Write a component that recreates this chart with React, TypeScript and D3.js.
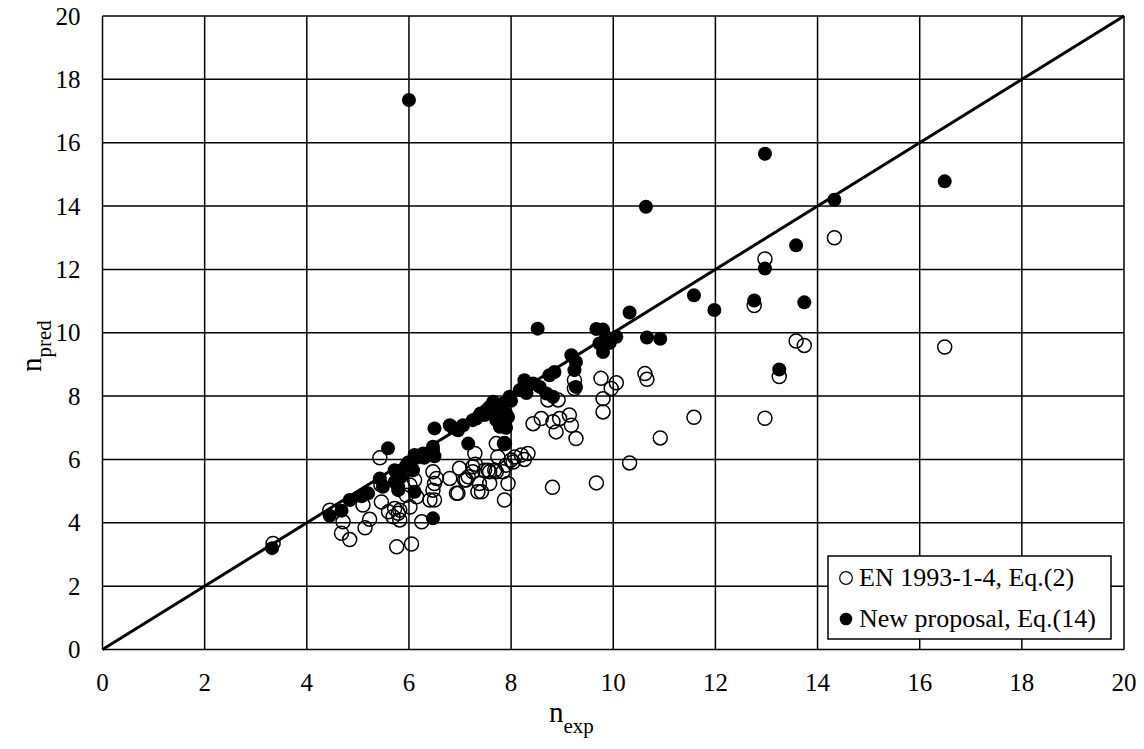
import React from "react";
import * as d3 from "d3";

const xTicks = [0, 2, 4, 6, 8, 10, 12, 14, 16, 18, 20];
const yTicks = [0, 2, 4, 6, 8, 10, 12, 14, 16, 18, 20];

const enX = [3.34, 4.45, 4.71, 4.68, 4.84, 5.1, 5.23, 5.14, 5.43, 5.46, 5.76, 5.72, 5.79, 5.82, 5.69, 5.82, 6.02, 6.25, 6.05, 6.15, 6.41, 6.47, 6.5, 6.54, 6.47, 6.02, 5.95, 6.11, 6.8, 6.93, 6.99, 7.12, 7.25, 7.29, 7.38, 7.42, 7.55, 7.58, 7.71, 7.84, 7.87, 7.94, 7.71, 7.74, 7.9, 8.04, 8.07, 8.2, 8.33, 7.68, 7.87, 8.43, 8.59, 8.82, 8.88, 8.95, 9.14, 9.18, 9.27, 8.72, 8.92, 9.24, 9.24, 9.76, 10.06, 9.96, 9.8, 9.8, 8.81, 9.67, 10.32, 10.62, 10.66, 10.92, 11.58, 12.76, 12.97, 12.97, 13.25, 13.58, 13.74, 14.33, 16.49, 7.16, 7.09, 6.96, 7.48, 7.25, 7.35, 7.58, 8.0, 6.5, 5.6, 5.45, 8.26, 7.3];
const enY = [3.35, 4.4, 4.03, 3.67, 3.47, 4.56, 4.11, 3.84, 6.05, 4.66, 3.24, 4.45, 4.3, 4.09, 4.19, 4.4, 4.5, 4.03, 3.33, 4.82, 4.72, 5.03, 5.24, 5.4, 5.61, 5.19, 4.87, 5.35, 5.4, 4.93, 5.72, 5.35, 5.61, 6.19, 5.24, 4.98, 5.66, 5.24, 5.61, 5.61, 4.72, 5.24, 6.5, 6.08, 5.82, 5.92, 6.08, 6.14, 6.19, 5.66, 6.5, 7.13, 7.29, 7.19, 6.87, 7.29, 7.4, 7.08, 6.66, 7.88, 7.88, 8.5, 8.24, 8.56, 8.42, 8.24, 7.92, 7.5, 5.12, 5.26, 5.89, 8.71, 8.53, 6.68, 7.33, 10.86, 12.33, 7.3, 8.62, 9.74, 9.6, 13.0, 9.55, 5.45, 5.35, 4.93, 5.66, 5.77, 4.98, 5.61, 5.98, 4.72, 4.35, 5.2, 6.0, 5.85];

const newX = [3.32, 4.45, 4.68, 4.84, 5.07, 5.2, 5.43, 5.49, 5.59, 5.72, 5.79, 5.85, 5.95, 5.72, 5.79, 6.02, 6.08, 6.11, 6.11, 6.28, 6.15, 6.47, 6.47, 6.5, 6.47, 6.5, 6.8, 6.96, 7.06, 7.16, 7.25, 7.32, 7.48, 7.52, 7.58, 7.65, 7.71, 7.78, 7.87, 7.9, 7.84, 7.97, 8.17, 8.26, 8.43, 8.52, 8.56, 8.69, 8.75, 8.82, 8.85, 9.18, 9.27, 9.24, 9.27, 9.67, 9.8, 9.73, 9.8, 9.86, 10.06, 10.32, 10.64, 10.66, 10.92, 11.58, 11.98, 12.76, 12.97, 12.97, 13.25, 13.58, 13.74, 14.33, 16.49, 6.0, 7.9, 7.94, 7.68, 6.86, 7.4, 8.3, 6.3, 5.98, 8.0, 9.93];
const newY = [3.2, 4.22, 4.38, 4.72, 4.84, 4.93, 5.4, 5.14, 6.35, 5.66, 5.14, 5.45, 5.82, 5.29, 5.03, 5.87, 5.66, 6.14, 4.98, 6.19, 6.05, 6.4, 4.14, 6.98, 6.29, 6.1, 7.08, 6.92, 7.08, 6.5, 7.24, 7.29, 7.4, 7.56, 7.66, 7.82, 7.24, 7.03, 6.5, 7.45, 7.77, 7.98, 8.19, 8.5, 8.4, 10.13, 8.29, 8.08, 8.66, 7.98, 8.76, 9.29, 9.08, 8.82, 8.29, 10.12, 10.1, 9.66, 9.39, 9.87, 9.87, 10.64, 13.98, 9.85, 9.81, 11.18, 10.72, 11.02, 15.65, 12.03, 8.84, 12.76, 10.96, 14.2, 14.78, 17.35, 7.0, 7.34, 7.55, 7.0, 7.45, 8.1, 6.05, 5.9, 7.85, 9.68];

const legendLabels = ["EN 1993-1-4, Eq.(2)", "New proposal, Eq.(14)"];

const W = 1144;
const H = 749;
const m = { left: 102.5, right: 1124, top: 16, bottom: 649.5 };
const font = "Liberation Serif, Times New Roman, serif";

export default function App() {
  const x = d3.scaleLinear().domain([0, 20]).range([m.left, m.right]);
  const y = d3.scaleLinear().domain([0, 20]).range([m.bottom, m.top]);
  const r = 7;
  const lineGen = d3.line<number>().x((d) => x(d)).y((d) => y(d));
  return (
    <svg width={W} height={H} style={{ position: "absolute", left: 0, top: 0, background: "#fff", fontFamily: font }}>
      <rect x={0} y={0} width={W} height={H} fill="#fff" />
      {xTicks.map((t) => (
        <line key={"gx" + t} x1={x(t)} x2={x(t)} y1={y(0)} y2={y(20)} stroke="#000" strokeWidth={1.5} />
      ))}
      {yTicks.map((t) => (
        <line key={"gy" + t} x1={x(0)} x2={x(20)} y1={y(t)} y2={y(t)} stroke="#000" strokeWidth={1.5} />
      ))}
      {xTicks.map((t) => (
        <text key={"tx" + t} x={x(t)} y={y(0) + 41.5} textAnchor="middle" fontSize={25} style={{ fontFamily: font }}>{t}</text>
      ))}
      {yTicks.map((t) => (
        <text key={"ty" + t} x={x(0) - 22} y={y(t) + 8.5} textAnchor="end" fontSize={25} style={{ fontFamily: font }}>{t}</text>
      ))}
      <path d={lineGen([0, 20]) || ""} stroke="#000" strokeWidth={3} fill="none" />
      {enX.map((v, i) => (
        <circle key={"e" + i} cx={x(v)} cy={y(enY[i])} r={r} fill="none" stroke="#000" strokeWidth={1.5} />
      ))}
      {newX.map((v, i) => (
        <circle key={"n" + i} cx={x(v)} cy={y(newY[i])} r={r} fill="#000" />
      ))}
      <text x={549} y={722} fontSize={29} style={{ fontFamily: font }}>
        n<tspan fontSize={21} dy={11}>exp</tspan>
      </text>
      <text transform={`translate(41, 372) rotate(-90)`} fontSize={29} style={{ fontFamily: font }}>
        n<tspan fontSize={21} dy={10}>pred</tspan>
      </text>
      <g>
        <rect x={828} y={556} width={283} height={83} fill="#fff" stroke="#000" strokeWidth={1.5} />
        <circle cx={846} cy={578} r={6.3} fill="#fff" stroke="#000" strokeWidth={1.2} />
        <text x={859} y={586} fontSize={26} style={{ fontFamily: font }}>{legendLabels[0]}</text>
        <circle cx={846} cy={619} r={6.3} fill="#000" />
        <text x={859} y={627} fontSize={26} style={{ fontFamily: font }}>{legendLabels[1]}</text>
      </g>
    </svg>
  );
}
